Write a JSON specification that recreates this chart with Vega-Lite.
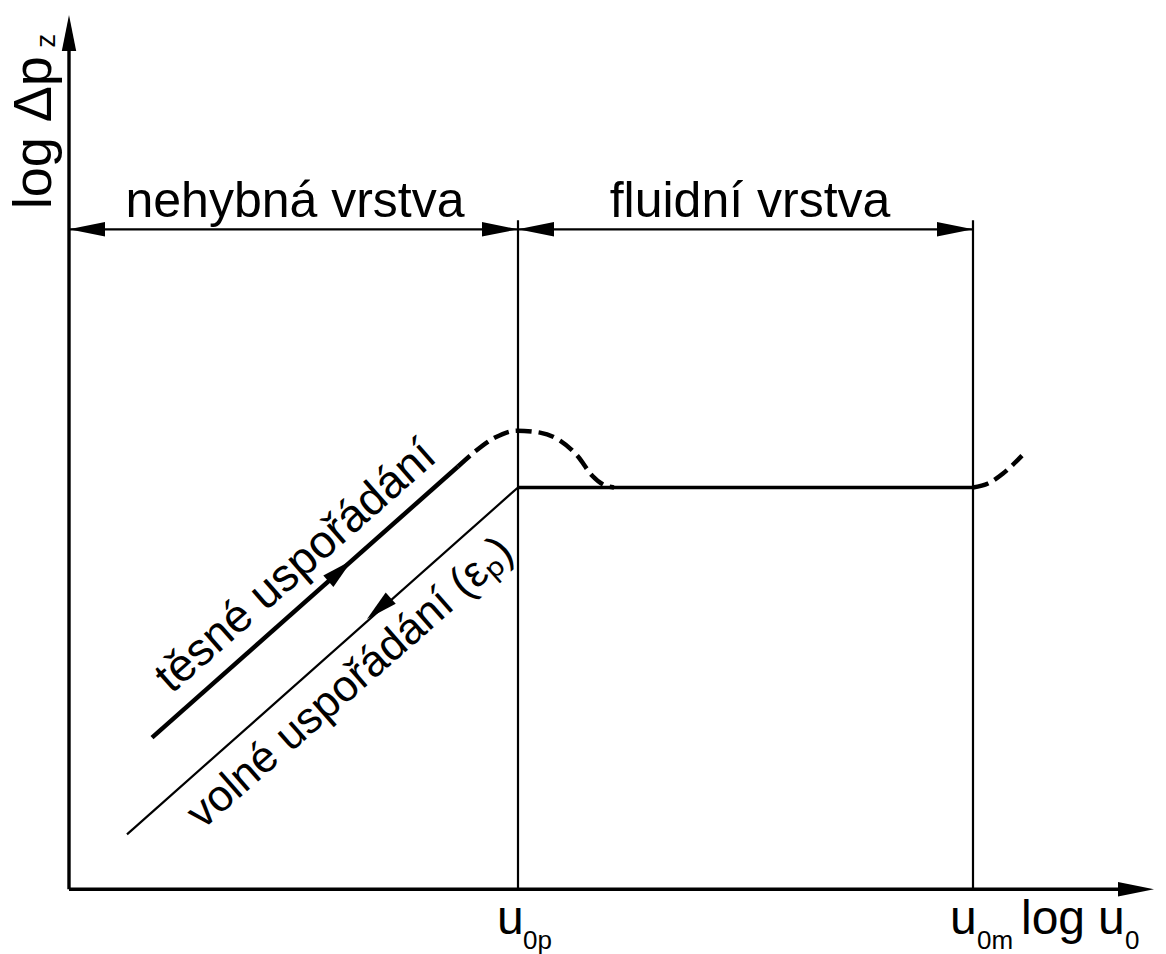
{
  "$schema": "https://vega.github.io/schema/vega-lite/v6.json",
  "width": 1166,
  "height": 954,
  "padding": 0,
  "autosize": {"type": "fit", "contains": "padding"},
  "background": "white",
  "config": {"view": {"stroke": null}, "axis": {"disable": true}},
  "datasets": {
    "segments": [
      {"seg": "axis", "x1": 0, "y1": 0, "x2": 0, "y2": 8.5},
      {"seg": "axis", "x1": 0, "y1": 0, "x2": 10.6, "y2": 0},
      {"seg": "thin", "x1": 4.49, "y1": 0, "x2": 4.49, "y2": 6.71},
      {"seg": "thin", "x1": 9.04, "y1": 0, "x2": 9.04, "y2": 6.71},
      {"seg": "thin", "x1": 0, "y1": 6.62, "x2": 9.04, "y2": 6.62},
      {"seg": "thin", "x1": 0.58, "y1": 0.55, "x2": 4.49, "y2": 4.03},
      {"seg": "plateau", "x1": 4.49, "y1": 4.03, "x2": 9.04, "y2": 4.03},
      {"seg": "thick", "x1": 0.83, "y1": 1.52, "x2": 3.89, "y2": 4.24}
    ],
    "curves": [
      {"curve": "peak", "x": 3.89, "y": 4.24},
      {"curve": "peak", "x": 4.06, "y": 4.39},
      {"curve": "peak", "x": 4.26, "y": 4.53},
      {"curve": "peak", "x": 4.48, "y": 4.6},
      {"curve": "peak", "x": 4.71, "y": 4.58},
      {"curve": "peak", "x": 4.91, "y": 4.5},
      {"curve": "peak", "x": 5.09, "y": 4.34},
      {"curve": "peak", "x": 5.23, "y": 4.15},
      {"curve": "peak", "x": 5.34, "y": 4.06},
      {"curve": "peak", "x": 5.45, "y": 4.03},
      {"curve": "end", "x": 9.04, "y": 4.03},
      {"curve": "end", "x": 9.19, "y": 4.07},
      {"curve": "end", "x": 9.34, "y": 4.17},
      {"curve": "end", "x": 9.53, "y": 4.35}
    ],
    "arrows": [
      {"kind": "big", "x": 0, "y": 8.77, "dir": 0},
      {"kind": "big", "x": 10.85, "y": 0, "dir": 90},
      {"kind": "big", "x": 0, "y": 6.62, "dir": 270},
      {"kind": "big", "x": 4.49, "y": 6.62, "dir": 90},
      {"kind": "big", "x": 4.49, "y": 6.62, "dir": 270},
      {"kind": "big", "x": 9.04, "y": 6.62, "dir": 90},
      {"kind": "small", "x": 2.83, "y": 3.3, "dir": 48.4},
      {"kind": "small", "x": 2.98, "y": 2.71, "dir": 228.6}
    ],
    "labels": [
      {"kind": "top", "text": "nehybná vrstva", "x": 2.26, "y": 6.74},
      {"kind": "top", "text": "fluidní vrstva", "x": 6.81, "y": 6.74},
      {"kind": "main", "text": "u", "x": 4.28, "y": -0.45},
      {"kind": "main", "text": "u", "x": 8.81, "y": -0.45},
      {"kind": "main", "text": "log", "x": 9.52, "y": -0.45},
      {"kind": "main", "text": "u", "x": 10.29, "y": -0.45},
      {"kind": "sub", "text": "0p", "x": 4.54, "y": -0.6},
      {"kind": "sub", "text": "0m", "x": 9.08, "y": -0.6},
      {"kind": "sub", "text": "0", "x": 10.56, "y": -0.6},
      {"kind": "ylab", "text": "log Δp", "x": -0.18, "y": 6.82},
      {"kind": "ysub", "text": "z", "x": -0.14, "y": 8.44},
      {"kind": "diag1", "text": "těsné uspořádání", "x": 2.36, "y": 3.13},
      {"kind": "diag2", "text": "volné uspořádání (εₚ)", "x": 2.9, "y": 1.97}
    ]
  },
  "encoding": {
    "x": {"type": "quantitative", "scale": {"domain": [-0.69, 10.97], "nice": false, "zero": false}, "axis": null},
    "y": {"type": "quantitative", "scale": {"domain": [-0.62, 8.92], "nice": false, "zero": false}, "axis": null}
  },
  "layer": [
    {
      "data": {"name": "segments"},
      "transform": [{"filter": "datum.seg === 'axis'"}],
      "mark": {"type": "rule", "color": "black", "strokeWidth": 3.4},
      "encoding": {"x": {"field": "x1"}, "y": {"field": "y1"}, "x2": {"field": "x2"}, "y2": {"field": "y2"}}
    },
    {
      "data": {"name": "segments"},
      "transform": [{"filter": "datum.seg === 'thin'"}],
      "mark": {"type": "rule", "color": "black", "strokeWidth": 2.2},
      "encoding": {"x": {"field": "x1"}, "y": {"field": "y1"}, "x2": {"field": "x2"}, "y2": {"field": "y2"}}
    },
    {
      "data": {"name": "segments"},
      "transform": [{"filter": "datum.seg === 'plateau'"}],
      "mark": {"type": "rule", "color": "black", "strokeWidth": 3.4},
      "encoding": {"x": {"field": "x1"}, "y": {"field": "y1"}, "x2": {"field": "x2"}, "y2": {"field": "y2"}}
    },
    {
      "data": {"name": "segments"},
      "transform": [{"filter": "datum.seg === 'thick'"}],
      "mark": {"type": "rule", "color": "black", "strokeWidth": 4.5},
      "encoding": {"x": {"field": "x1"}, "y": {"field": "y1"}, "x2": {"field": "x2"}, "y2": {"field": "y2"}}
    },
    {
      "data": {"name": "curves"},
      "mark": {"type": "line", "color": "black", "strokeWidth": 4.5, "strokeDash": [16, 7], "interpolate": "monotone"},
      "encoding": {"x": {"field": "x"}, "y": {"field": "y"}, "detail": {"field": "curve"}}
    },
    {
      "data": {"name": "arrows"},
      "transform": [{"filter": "datum.kind === 'big'"}],
      "mark": {"type": "point", "shape": "M0,0L0.2,1L-0.2,1Z", "filled": true, "color": "black", "size": 5184, "opacity": 1},
      "encoding": {"x": {"field": "x"}, "y": {"field": "y"}, "angle": {"field": "dir", "type": "quantitative", "scale": null}}
    },
    {
      "data": {"name": "arrows"},
      "transform": [{"filter": "datum.kind === 'small'"}],
      "mark": {"type": "point", "shape": "M0,0L0.24,1L-0.24,1Z", "filled": true, "color": "black", "size": 4000, "opacity": 1},
      "encoding": {"x": {"field": "x"}, "y": {"field": "y"}, "angle": {"field": "dir", "type": "quantitative", "scale": null}}
    },
    {
      "data": {"name": "labels"},
      "transform": [{"filter": "datum.kind === 'top'"}],
      "mark": {"type": "text", "font": "Liberation Sans", "fontSize": 50, "baseline": "alphabetic", "align": "center", "color": "black"},
      "encoding": {"x": {"field": "x"}, "y": {"field": "y"}, "text": {"field": "text"}}
    },
    {
      "data": {"name": "labels"},
      "transform": [{"filter": "datum.kind === 'main'"}],
      "mark": {"type": "text", "font": "Liberation Sans", "fontSize": 48, "baseline": "alphabetic", "align": "left", "color": "black"},
      "encoding": {"x": {"field": "x"}, "y": {"field": "y"}, "text": {"field": "text"}}
    },
    {
      "data": {"name": "labels"},
      "transform": [{"filter": "datum.kind === 'sub'"}],
      "mark": {"type": "text", "font": "Liberation Sans", "fontSize": 26, "baseline": "alphabetic", "align": "left", "color": "black"},
      "encoding": {"x": {"field": "x"}, "y": {"field": "y"}, "text": {"field": "text"}}
    },
    {
      "data": {"name": "labels"},
      "transform": [{"filter": "datum.kind === 'ylab'"}],
      "mark": {"type": "text", "font": "Liberation Sans", "fontSize": 54, "baseline": "alphabetic", "align": "left", "angle": 270, "color": "black"},
      "encoding": {"x": {"field": "x"}, "y": {"field": "y"}, "text": {"field": "text"}}
    },
    {
      "data": {"name": "labels"},
      "transform": [{"filter": "datum.kind === 'ysub'"}],
      "mark": {"type": "text", "font": "Liberation Sans", "fontSize": 28, "baseline": "alphabetic", "align": "left", "angle": 270, "color": "black"},
      "encoding": {"x": {"field": "x"}, "y": {"field": "y"}, "text": {"field": "text"}}
    },
    {
      "data": {"name": "labels"},
      "transform": [{"filter": "datum.kind === 'diag1'"}],
      "mark": {"type": "text", "font": "Liberation Sans", "fontSize": 46, "baseline": "alphabetic", "align": "center", "angle": 318.7, "color": "black"},
      "encoding": {"x": {"field": "x"}, "y": {"field": "y"}, "text": {"field": "text"}}
    },
    {
      "data": {"name": "labels"},
      "transform": [{"filter": "datum.kind === 'diag2'"}],
      "mark": {"type": "text", "font": "Liberation Sans", "fontSize": 44, "baseline": "alphabetic", "align": "center", "angle": 318.7, "color": "black"},
      "encoding": {"x": {"field": "x"}, "y": {"field": "y"}, "text": {"field": "text"}}
    }
  ]
}
